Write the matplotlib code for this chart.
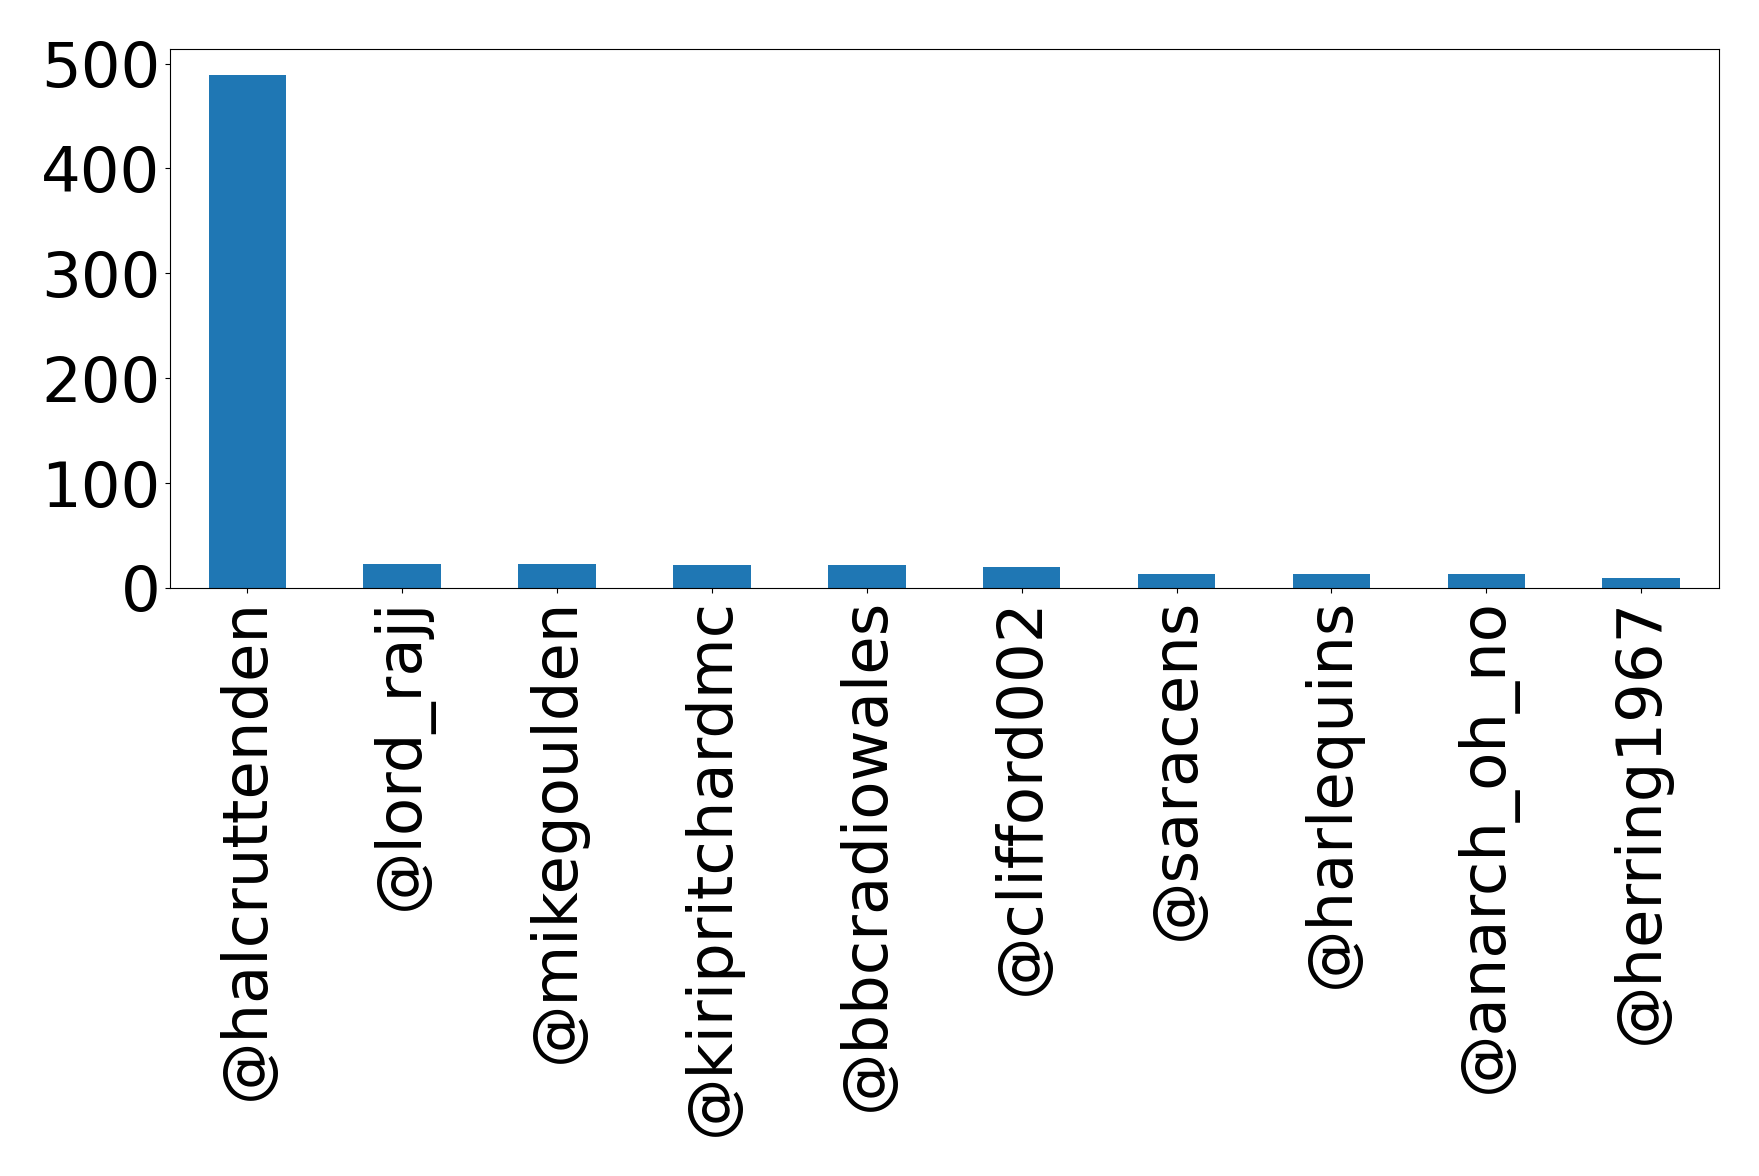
import matplotlib
matplotlib.use('Agg')
import matplotlib.pyplot as plt
import pandas as pd

# mention counts per account
accounts = ['@halcruttenden', '@lord_rajj', '@mikegoulden', '@kiripritchardmc',
            '@bbcradiowales', '@clifford002', '@saracens', '@harlequins',
            '@anarch_oh_no', '@herring1967']
counts = [489, 23, 23, 22, 22, 20, 13, 13, 13, 10]

s = pd.Series(counts, index=accounts)

fig = plt.figure(figsize=(17.59, 11.76), dpi=100)
ax = fig.add_axes([0.0966, 0.5, 0.8804, 0.458])
s.plot(kind='bar', ax=ax, color='#1f77b4')

ax.tick_params(axis='both', labelsize=45)
ax.set_yticks([0, 100, 200, 300, 400, 500])

fig.savefig('out.png', dpi=100)
